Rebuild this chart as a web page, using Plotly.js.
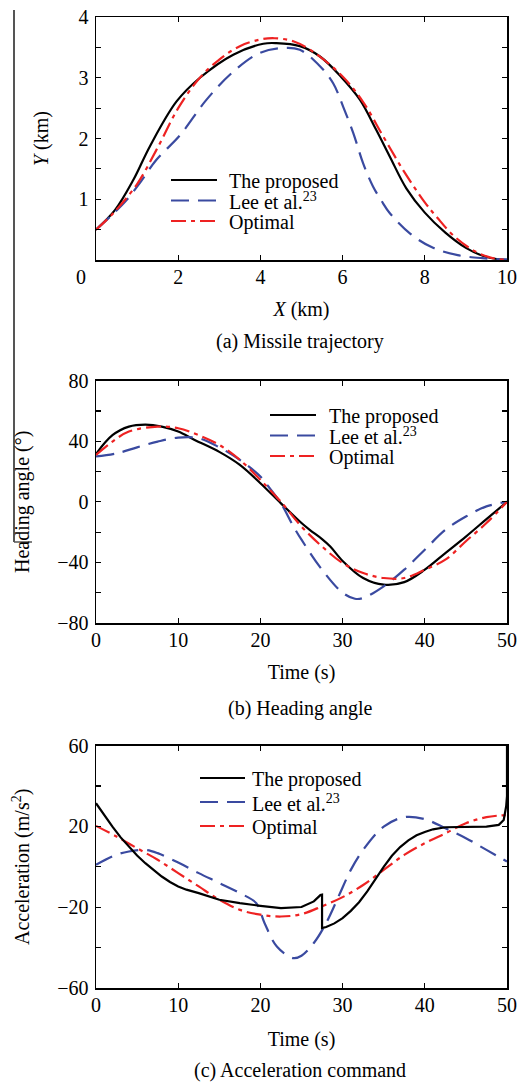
<!DOCTYPE html>
<html>
<head>
<meta charset="utf-8">
<script src="https://cdn.plot.ly/plotly-3.0.1.min.js"></script>
<style>html,body{margin:0;padding:0;background:#fff;}#chart{width:528px;height:1084px;}</style>
</head>
<body>
<div id="chart"></div>
<script>
// ---------- Data ----------
var seriesNames = ["The proposed", "Lee et al.<sup>23</sup>", "Optimal"];

// (a) Missile trajectory: X (km) vs Y (km)
var trajProposedX = [0, 0.46, 0.91, 1.31, 1.96, 2.53, 3.34, 4.07, 4.39, 4.96, 5.45, 5.97, 6.42, 6.82, 7.15, 7.55, 8.0, 8.5, 9.0, 9.5, 10];
var trajProposedY = [0.5, 0.82, 1.32, 1.87, 2.61, 3.0, 3.38, 3.56, 3.57, 3.52, 3.35, 3.01, 2.64, 2.14, 1.7, 1.18, 0.78, 0.45, 0.2, 0.05, 0];
var trajLeeX = [0, 0.4, 0.75, 1.1, 1.47, 2.04, 2.69, 3.34, 3.99, 4.55, 4.96, 5.45, 5.77, 6.01, 6.26, 6.5, 6.74, 6.95, 7.15, 7.65, 8.2, 8.8, 9.4, 10];
var trajLeeY = [0.5, 0.75, 0.99, 1.3, 1.65, 2.05, 2.64, 3.1, 3.41, 3.49, 3.46, 3.19, 2.91, 2.53, 2.09, 1.59, 1.21, 0.97, 0.77, 0.43, 0.2, 0.08, 0.03, 0.01];
var trajOptimalX = [0, 0.42, 1.0, 1.5, 2.0, 2.5, 3.0, 3.5, 4.0, 4.35, 4.8, 5.3, 6.0, 6.5, 7.0, 7.5, 8.0, 8.3, 8.7, 9.2, 9.6, 10];
var trajOptimalY = [0.5, 0.77, 1.25, 1.85, 2.5, 2.98, 3.3, 3.52, 3.63, 3.65, 3.6, 3.42, 3.02, 2.6, 2.02, 1.45, 0.95, 0.7, 0.4, 0.15, 0.04, 0];

// (b) Heading angle (deg) vs time (s)
var headProposedT = [0, 2, 4, 6, 8, 10, 12, 15, 17.5, 20, 22.5, 25, 26, 27.5, 28.5, 30, 32.5, 35, 37.5, 40, 42.5, 45, 47.5, 50];
var headProposed  = [31.6, 44, 49.7, 51, 49.7, 46.4, 40.9, 33, 24.4, 12.3, -1, -14, -18.5, -24.6, -29.5, -39, -50.3, -54.7, -53, -44.8, -33.8, -22.9, -11.4, 0];
var headLeeT = [0, 2.5, 5, 7.5, 10, 12.5, 15, 17.5, 20, 21, 22.5, 24, 25, 27.5, 30, 31.5, 32.5, 35, 37.5, 40, 42.5, 45, 47.5, 50];
var headLee  = [30, 32, 36, 39.8, 42.4, 42, 36, 27.7, 16.7, 10, -1, -16, -25, -44.8, -60, -64, -63.5, -55.8, -44.8, -31.6, -18.5, -9.7, -3, 0];
var headOptimalT = [0, 2, 4, 7.5, 10, 12.5, 15, 17.5, 20, 22.5, 25, 27.5, 30, 32.5, 35, 37.5, 40, 42.5, 45, 47.5, 50];
var headOptimal  = [31, 39.8, 46.4, 49.7, 48.6, 44, 37.6, 27.7, 14.5, 0, -16.3, -29.5, -40.4, -47, -50.3, -50.3, -44.8, -38.2, -26, -14, 0];

// (c) Acceleration command (m/s^2) vs time (s)
var accProposedT = [0, 1, 2, 3, 4, 5, 6, 7, 8, 9, 10, 11, 12.5, 15, 17.5, 20, 22.5, 25, 26.5, 27.3, 27.5, 27.5, 28, 29, 30, 31, 32, 33, 34, 35, 36, 37, 38, 39, 40, 41, 42.5, 45, 47.5, 49, 49.6, 49.9, 50, 50];
var accProposed  = [31.5, 25.5, 19.9, 14.6, 10, 5.6, 1.8, -1.7, -4.8, -7.5, -9.7, -11.3, -13, -16.3, -18, -19.3, -20.4, -19.9, -17.1, -14, -13.8, -30.3, -29.8, -28, -25.4, -21.8, -17.5, -12.2, -6, 0, 5.5, 9.8, 13.1, 15.6, 17.3, 18.6, 19.6, 19.6, 19.9, 20.8, 23.2, 30, 35, 60];
var accLeeT = [0, 2.5, 4, 6, 7.5, 10, 12.5, 15, 17.5, 19.5, 20.5, 22, 24, 25, 26.5, 28, 29.5, 31, 32.5, 35, 37.5, 40, 42.5, 45, 47.5, 50];
var accLee  = [1, 6, 7.6, 8.4, 6.8, 2.1, -3.1, -8, -13, -18, -27.8, -39.4, -45.2, -44, -37.7, -27.8, -14.7, -1.5, 8.4, 19.9, 24.6, 23.6, 19.1, 14.2, 8.4, 2.6];
var accOptimalT = [0, 2.5, 5, 7.5, 10, 12.5, 15, 17.5, 20, 22.5, 25, 27.5, 30, 32.5, 35, 37.5, 40, 42.5, 45, 47.5, 50];
var accOptimal  = [20.3, 15, 9.2, 3.5, -3.1, -9.7, -16.3, -21.3, -23.7, -24.6, -23.4, -19.5, -15, -9, -1.5, 5.9, 11.7, 16.6, 21.6, 24.6, 25.7];

// Tick values
var trajXTicks = [2, 4, 6, 8, 10];
var trajYTicks = [1, 2, 3, 4];
var trajYMinor = [0.5, 1.5, 2.5, 3.5];
var headYTicks = [-80, -40, 0, 40, 80];
var headYMinor = [-60, -20, 20, 60];
var accYTicks = [-60, -20, 20, 60];
var accYMinor = [-40, 0, 40];
var timeTicks = [0, 10, 20, 30, 40, 50];

// ---------- Styles ----------
var W = 528, H = 1084;
function px(x) { return x / W; }
function py(y) { return 1 - y / H; }
var FONT = "Liberation Serif";
var BLACK = "#000000", BLUE = "#3a4aa0", RED = "#ee2222";
var styles = [
  {color: BLACK, width: 2.2, dash: "solid"},
  {color: BLUE, width: 2.2, dash: "18px,9px"},
  {color: RED, width: 2.2, dash: "15px,5px,4px,5px"}
];

function tr(x, y, i, xa, ya, shape) {
  return {x: x, y: y, xaxis: xa, yaxis: ya, type: "scatter", mode: "lines",
    name: seriesNames[i], showlegend: false, hoverinfo: "skip",
    line: {color: styles[i].color, width: styles[i].width, dash: styles[i].dash, shape: shape || "spline", smoothing: 1}};
}

var data = [
  tr(trajProposedX, trajProposedY, 0, "x", "y"),
  tr(trajLeeX, trajLeeY, 1, "x", "y"),
  tr(trajOptimalX, trajOptimalY, 2, "x", "y"),
  tr(headProposedT, headProposed, 0, "x2", "y2"),
  tr(headLeeT, headLee, 1, "x2", "y2"),
  tr(headOptimalT, headOptimal, 2, "x2", "y2"),
  tr(accLeeT, accLee, 1, "x3", "y3"),
  tr(accOptimalT, accOptimal, 2, "x3", "y3"),
  tr(accProposedT, accProposed, 0, "x3", "y3", "linear")
];

var tickFont = {family: FONT, size: 20, color: "#000"};
var titleFont = {family: FONT, size: 20, color: "#000"};
function xAxis(range, tickvals, anchor, title, standoff) {
  return {domain: [px(96), px(507)], range: range, anchor: anchor, tickmode: "array", tickvals: tickvals,
    showline: true, mirror: "ticks", linecolor: "#000", linewidth: 1.5, ticks: "inside", ticklen: 5, tickwidth: 1.2, tickcolor: "#000",
    showgrid: false, zeroline: false, tickfont: tickFont, ticklabelstandoff: -2, fixedrange: true,
    title: {text: title, font: titleFont, standoff: standoff}};
}
function yAxis(range, tickvals, minorvals, anchor, title, dom, standoff) {
  return {domain: dom, range: range, anchor: anchor, tickmode: "array", tickvals: tickvals,
    minor: {tickmode: "array", tickvals: minorvals, ticks: "inside", ticklen: 5, tickwidth: 1.2, tickcolor: "#000", showgrid: false},
    showline: true, mirror: "ticks", linecolor: "#000", linewidth: 1.5, ticks: "inside", ticklen: 5, tickwidth: 1.2, tickcolor: "#000",
    showgrid: false, zeroline: false, tickfont: tickFont, ticklabelstandoff: 2, fixedrange: true,
    title: {text: title, font: titleFont, standoff: standoff}};
}

var layout = {
  width: W, height: H, margin: {l: 0, r: 0, t: 0, b: 0}, paper_bgcolor: "#fff", plot_bgcolor: "#fff",
  showlegend: false, font: {family: FONT, size: 20, color: "#000"},
  xaxis: xAxis([0, 10], trajXTicks, "y", "<i>X</i> (km)", 15),
  yaxis: yAxis([0, 4], trajYTicks, trajYMinor, "x", "<i>Y</i> (km)", [py(260), py(17)], 24),
  xaxis2: xAxis([0, 50], timeTicks, "y2", "Time (s)", 15),
  yaxis2: yAxis([-80, 80], headYTicks, headYMinor, "x2", "Heading angle (°)", [py(623), py(380.7)], 22),
  xaxis3: xAxis([0, 50], timeTicks, "y3", "Time (s)", 17),
  yaxis3: yAxis([-60, 60], accYTicks, accYMinor, "x3", "Acceleration (m/s<sup>2</sup>)", [py(988), py(745.7)], 22),
  shapes: [],
  annotations: []
};

// origin label of panel (a)
layout.annotations.push({xref: "paper", yref: "paper", x: px(81), y: py(277), text: "0", showarrow: false,
  xanchor: "center", yanchor: "middle", font: tickFont});

// captions
var captions = [["(a) Missile trajectory", 341], ["(b) Heading angle", 708], ["(c) Acceleration command", 1070]];
captions.forEach(function (c) {
  layout.annotations.push({xref: "paper", yref: "paper", x: px(300), y: py(c[1]), text: c[0], showarrow: false,
    xanchor: "center", yanchor: "middle", font: titleFont});
});

// legends (drawn inside each panel)
var legendSpecs = [
  {x0: 171, x1: 217, tx: 227, rows: [180, 200.5, 221]},
  {x0: 270, x1: 316, tx: 327, rows: [415, 435.5, 456]},
  {x0: 200, x1: 245, tx: 250, rows: [778, 802, 826]}
];
legendSpecs.forEach(function (L) {
  for (var i = 0; i < 3; i++) {
    layout.shapes.push({type: "line", xref: "paper", yref: "paper", x0: px(L.x0), x1: px(L.x1), y0: py(L.rows[i]), y1: py(L.rows[i]),
      line: {color: styles[i].color, width: styles[i].width, dash: styles[i].dash}});
    layout.annotations.push({xref: "paper", yref: "paper", x: px(L.tx), y: py(L.rows[i] + 1), text: seriesNames[i], showarrow: false,
      xanchor: "left", yanchor: "middle", font: titleFont});
  }
});

// scan artefact: thin grey bracket at left edge
layout.shapes.push({type: "line", xref: "paper", yref: "paper", x0: px(14), x1: px(14), y0: py(10), y1: py(542),
  line: {color: "#555", width: 2}});
layout.shapes.push({type: "line", xref: "paper", yref: "paper", x0: px(14), x1: px(32), y0: py(542), y1: py(542),
  line: {color: "#555", width: 1.5}});

Plotly.newPlot("chart", data, layout, {staticPlot: true, displayModeBar: false});
</script>
</body>
</html>
